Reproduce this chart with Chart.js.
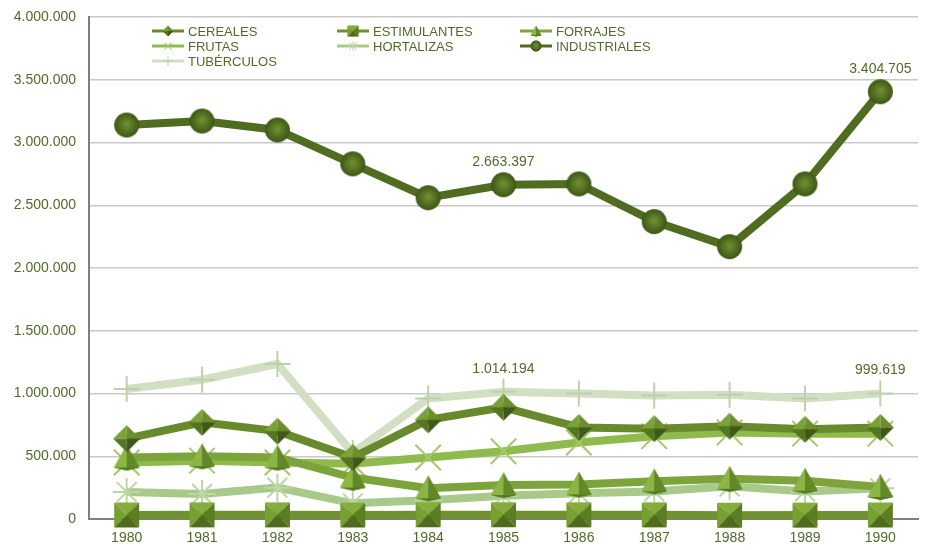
<!DOCTYPE html>
<html>
<head>
<meta charset="utf-8">
<script src="https://cdn.jsdelivr.net/npm/chart.js@4"></script>
<style>
  html, body { margin: 0; padding: 0; background: #fff; overflow: hidden; }
  canvas { display: block; }
</style>
</head>
<body>
<canvas id="chart" width="927" height="550"></canvas>
<script>
const years = ['1980','1981','1982','1983','1984','1985','1986','1987','1988','1989','1990'];

const cereales     = [640000, 770000, 700000, 490000, 790000, 890000, 730000, 720000, 740000, 715000, 730000];
const estimulantes = [ 32000,  33000,  33000,  32000,  34000,  34000,  33000,  33000,  30000,  31000,  32000];
const forrajes     = [490000, 500000, 490000, 330000, 245000, 270000, 275000, 300000, 320000, 305000, 255000];
const frutas       = [450000, 465000, 450000, 440000, 490000, 540000, 610000, 660000, 690000, 680000, 680000];
const hortalizas   = [215000, 200000, 250000, 125000, 150000, 185000, 205000, 220000, 260000, 220000, 245000];
const industriales = [3139000, 3171000, 3100000, 2830000, 2560000, 2663397, 2670000, 2370000, 2170000, 2670000, 3404705];
const tuberculos   = [1036000, 1110000, 1235000, 526000, 960000, 1014194, 1000000, 985000, 990000, 960000, 999619];

// which points carry a value label: [series name, index]
const labelled = [['INDUSTRIALES', 5], ['INDUSTRIALES', 10], ['TUBÉRCULOS', 5], ['TUBÉRCULOS', 10]];

const textColor = '#526a29';
const fontFamily = '"Liberation Sans", Arial, sans-serif';

// big markers would otherwise push the plot area in from the top and right
Chart.LineController.prototype.getMaxOverflow = function () { return 0; };

function fmt(v) {
  return String(Math.round(v)).replace(/\B(?=(\d{3})+(?!\d))/g, '.');
}

// little shaded marker images (pyramids / cone) like the original
function makeMarker(kind, size, shades) {
  const c = document.createElement('canvas');
  c.width = size; c.height = size;
  const g = c.getContext('2d');
  const m = size / 2, e = size - 1;
  const tri = (pts, col) => {
    g.fillStyle = col;
    g.beginPath();
    g.moveTo(pts[0][0], pts[0][1]);
    pts.slice(1).forEach(p => g.lineTo(p[0], p[1]));
    g.closePath();
    g.fill();
  };
  if (kind === 'square') {
    tri([[1, 1], [e, 1], [m, m]], shades[0]);
    tri([[1, 1], [1, e], [m, m]], shades[1]);
    tri([[e, 1], [e, e], [m, m]], shades[2]);
    tri([[1, e], [e, e], [m, m]], shades[3]);
  } else if (kind === 'diamond') {
    tri([[m, 1], [1, m], [m, m]], shades[0]);
    tri([[m, 1], [e, m], [m, m]], shades[1]);
    tri([[1, m], [m, e], [m, m]], shades[2]);
    tri([[e, m], [m, e], [m, m]], shades[3]);
  } else if (kind === 'triangle') {
    const base = size * 0.86;
    tri([[m, 1], [1, base], [m, e]], shades[0]);
    tri([[m, 1], [e, base], [m, e]], shades[2]);
    tri([[1, base], [m, e], [e, base]], shades[3]);
  } else if (kind === 'circle') {
    const grd = g.createRadialGradient(m, m - 1, 1, m, m, m);
    grd.addColorStop(0, shades[0]);
    grd.addColorStop(0.6, shades[1]);
    grd.addColorStop(1, shades[2]);
    g.fillStyle = grd;
    g.beginPath();
    g.arc(m, m, m - 1, 0, Math.PI * 2);
    g.fill();
  }
  return c;
}

const squareImg  = makeMarker('square', 27, ['#86ad3c', '#76a032', '#5c7d22', '#4f6b1b']);
const diamondImg = makeMarker('diamond', 29, ['#7ba23a', '#6a8f2c', '#557620', '#40591a']);
const triImg     = makeMarker('triangle', 28, ['#8bb544', '#7aa436', '#62882a', '#557821']);
const circleImg  = makeMarker('circle', 27, ['#6e8d32', '#4d6a1e', '#3a5214']);

function series(label, data, color, markColor, style, radius, order) {
  return {
    label, data, order,
    clip: false,
    borderColor: color,
    borderWidth: 8,
    pointStyle: style,
    pointRadius: radius,
    pointHoverRadius: radius,
    pointBackgroundColor: markColor,
    pointBorderColor: markColor,
    pointBorderWidth: 2,
    tension: 0,
    fill: false
  };
}

const datasets = [
  series('CEREALES', cereales, '#688a2c', '#5b7b24', diamondImg, 15, 3),
  series('ESTIMULANTES', estimulantes, '#6f922f', '#62842a', squareImg, 14, 1),
  series('FORRAJES', forrajes, '#7da43a', '#6d9330', triImg, 14, 4),
  series('FRUTAS', frutas, '#8fba4c', '#a3ca6a', 'crossRot', 18, 5),
  series('HORTALIZAS', hortalizas, '#a9c98b', '#bcd6a4', 'star', 14, 6),
  series('INDUSTRIALES', industriales, '#506c20', '#4a651c', circleImg, 13, 2),
  series('TUBÉRCULOS', tuberculos, '#d2dfc2', '#bfd1a9', 'cross', 13, 7)
];

// legend drawn in three columns inside the plot
const legendPlugin = {
  id: 'colLegend',
  afterDraw(chart) {
    const ctx = chart.ctx;
    const cols = [152, 337, 520];
    const rows = [31, 46, 61];
    ctx.save();
    ctx.font = '13px ' + fontFamily;
    ctx.textBaseline = 'middle';
    chart.data.datasets.forEach((ds, i) => {
      const x = cols[i % 3], y = rows[Math.floor(i / 3)];
      ctx.strokeStyle = ds.borderColor;
      ctx.lineWidth = 3;
      ctx.beginPath();
      ctx.moveTo(x, y);
      ctx.lineTo(x + 32, y);
      ctx.stroke();
      if (ds.pointStyle instanceof HTMLCanvasElement) {
        ctx.drawImage(ds.pointStyle, x + 10, y - 6, 12, 12);
      } else {
        ctx.strokeStyle = ds.pointBorderColor;
        ctx.lineWidth = 1;
        Chart.helpers.drawPoint(ctx, { pointStyle: ds.pointStyle, radius: 5, rotation: 0, borderWidth: 1 }, x + 16, y);
      }
      ctx.fillStyle = textColor;
      ctx.fillText(ds.label, x + 36, y + 1);
    });
    ctx.restore();
  }
};

const valueLabels = {
  id: 'valueLabels',
  afterDatasetsDraw(chart) {
    const ctx = chart.ctx;
    ctx.save();
    ctx.font = '14px ' + fontFamily;
    ctx.fillStyle = textColor;
    ctx.textAlign = 'center';
    ctx.textBaseline = 'middle';
    labelled.forEach(([name, idx]) => {
      const di = chart.data.datasets.findIndex(d => d.label === name);
      const pt = chart.getDatasetMeta(di).data[idx];
      ctx.fillText(fmt(chart.data.datasets[di].data[idx]), pt.x, pt.y - 23);
    });
    ctx.restore();
  }
};

new Chart(document.getElementById('chart'), {
  type: 'line',
  data: { labels: years, datasets },
  options: {
    responsive: false,
    animation: false,
    layout: { padding: { top: 17, right: 9, left: 0, bottom: 0 } },
    plugins: { legend: { display: false }, tooltip: { enabled: false } },
    scales: {
      x: {
        offset: true,
        grid: { display: false, drawTicks: false },
        border: { display: true, color: '#7f7f7f', width: 2 },
        ticks: { color: textColor, font: { family: fontFamily, size: 14 }, padding: 11 },
        afterFit(s) { s.height = 31; s.paddingLeft = 0; s.paddingRight = 0; }
      },
      y: {
        min: 0, max: 4000000,
        ticks: {
          stepSize: 500000, color: textColor, padding: 13,
          font: { family: fontFamily, size: 14 },
          callback: v => fmt(v)
        },
        grid: { color: '#c9c9c9', lineWidth: 1.5, drawTicks: false },
        border: { display: true, color: '#7f7f7f', width: 2 },
        afterFit(s) { s.width = 89; s.paddingTop = 0; s.paddingBottom = 0; }
      }
    }
  },
  plugins: [legendPlugin, valueLabels]
});
</script>
</body>
</html>
